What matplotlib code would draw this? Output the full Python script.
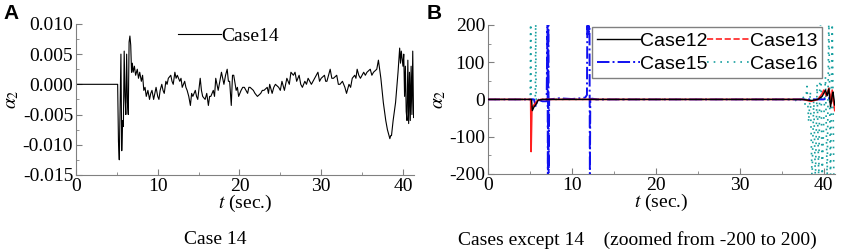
import numpy as np
import matplotlib
matplotlib.use("Agg")
import matplotlib.pyplot as plt
from matplotlib.ticker import MultipleLocator, FormatStrFormatter

plt.rcParams['font.family'] = 'Liberation Serif'
plt.rcParams['axes.unicode_minus'] = False
plt.rcParams['mathtext.fontset'] = 'stix'

TEAL = "#18A0A0"

# ---- panel A: Case 14, (time, alpha2) ----
case14 = [
    (0, 0), (5.1, 0), (5.2, -0.0095), (5.3, -0.0125), (5.4, -0.004), (5.5, 0.005), (5.6, -0.011),
    (5.7, -0.006), (5.8, -0.007), (5.9, 0.0055), (6.0, -0.002), (6.1, -0.005), (6.2, 0.005),
    (6.3, -0.003), (6.4, -0.005), (6.5, 0.007), (6.6, 0.008), (6.7, 0.0065), (6.8, 0.002),
    (6.9, 0.0035), (7.0, 0.002), (7.15, 0.003), (7.3, 0.0015), (7.5, 0.0025), (7.65, 0.001),
    (7.8, 0.002), (8.0, 0.0005), (8.15, 0.0015), (8.3, -0.001), (8.45, -0.0005), (8.6, -0.002),
    (8.8, -0.001), (9.0, -0.0025), (9.15, -0.0015), (9.3, -0.001), (9.5, -0.0025), (9.65, -0.0015),
    (9.8, -0.0005), (10.0, -0.002), (10.15, -0.0025), (10.3, -0.001), (10.5, 0.0), (10.65, -0.001),
    (10.8, -0.0015), (11.0, 0.0005), (11.15, 0.0), (11.3, 0.001), (11.6, 0.0015), (11.75, 0.0005),
    (11.9, 0.0), (12.1, 0.002), (12.25, 0.001), (12.4, 0.0015), (12.7, 0.0005), (12.85, 0.001),
    (13.0, -0.0005), (13.3, 0.0005), (13.45, -0.0005), (13.6, -0.001), (13.8, -0.002),
    (14.0, -0.0035), (14.15, -0.0015), (14.3, -0.002), (14.6, -0.001), (14.75, -0.002),
    (14.9, -0.0025), (15.2, 0.001), (15.35, -0.001), (15.5, -0.002), (15.8, -0.0025),
    (16.0, -0.0015), (16.2, -0.0035), (16.35, -0.002), (16.5, -0.002), (16.8, -0.001),
    (16.95, -0.002), (17.1, 0.001), (17.4, -0.001), (17.6, 0.0005), (17.8, 0.002), (18.1, 0.0),
    (18.3, 0.0015), (18.5, 0.0025), (18.65, 0.0005), (18.8, 0.0005), (19.0, -0.0035),
    (19.15, 0.0015), (19.3, 0.0015), (19.6, -0.001), (19.75, -0.0005), (19.9, -0.002),
    (20.2, -0.001), (20.4, -0.0005), (20.6, -0.0005), (21.0, -0.0015), (21.15, -0.0005),
    (21.3, -0.0005), (21.7, -0.001), (21.9, -0.0015), (22.2, -0.002), (22.6, -0.0015),
    (22.8, -0.001), (23.0, -0.001), (23.4, -0.0005), (23.55, -0.0015), (23.7, 0.0),
    (24.0, -0.0015), (24.2, -0.0005), (24.4, 0.0), (24.8, -0.0005), (25.0, -0.001),
    (25.2, 0.0005), (25.5, -0.001), (25.65, 0.0), (25.8, 0.001), (26.1, 0.0), (26.3, 0.002),
    (26.6, 0.0015), (26.8, 0.002), (27.0, 0.0005), (27.3, 0.0015), (27.5, 0.0), (27.7, -0.0005),
    (28.0, 0.0005), (28.2, 0.0), (28.4, 0.001), (28.8, 0.0), (29.0, 0.0005), (29.2, 0.001),
    (29.6, 0.002), (29.8, 0.0005), (30.0, 0.001), (30.4, 0.0015), (30.55, 0.0005), (30.7, 0.0005),
    (31.1, 0.0025), (31.3, 0.001), (31.5, 0.001), (31.9, 0.0015), (32.1, 0.0), (32.3, 0.0),
    (32.6, 0.0005), (32.9, -0.0005), (33.1, -0.0015), (33.4, 0.0), (33.6, -0.0005), (33.8, 0.001),
    (34.1, 0.0015), (34.25, 0.001), (34.4, 0.0025), (34.6, 0.0015), (34.8, 0.001), (35.2, 0.002),
    (35.4, 0.0015), (35.6, 0.002), (36.0, 0.0025), (36.2, 0.0015), (36.4, 0.002), (36.8, 0.0025),
    (37.0, 0.004), (37.3, 0.001), (37.6, -0.003), (37.9, -0.006), (38.1, -0.0075), (38.2, -0.008),
    (38.4, -0.009), (38.5, -0.0085), (38.6, -0.0085), (38.8, -0.006), (39.1, -0.003), (39.4, 0.002),
    (39.6, 0.006), (39.7, 0.0035), (39.8, 0.0055), (40.0, 0.003), (40.1, 0.005), (40.2, -0.002),
    (40.3, 0.003), (40.4, -0.0045), (40.5, -0.006), (40.6, 0.004), (40.7, -0.0065), (40.8, 0.002),
    (40.9, -0.006), (41.0, 0.003), (41.1, -0.005), (41.2, 0.0055), (41.3, -0.0055),
]
t14 = [p[0] for p in case14]
a14 = [p[1] for p in case14]

# ---- panel B: other cases (values beyond +-200 are clipped by the axis) ----
t12 = [0, 5.2, 5.3, 5.5, 5.7, 6.0, 6.5, 37.5, 38.5, 39.3, 39.8, 40.2, 40.4, 40.6, 40.8, 41.0, 41.1, 41.3]
a12 = [0, 0, -30, -20, -15, -2, 0, 0, -3, 0, 8, 25, 10, 28, -20, 10, 20, -15]

t13 = [0, 5.1, 5.15, 5.25, 5.4, 5.6, 5.9, 6.3, 37.5, 38.5, 39.3, 39.8, 40.0, 40.3, 40.6, 40.9, 41.0, 41.3]
a13 = [0, 0, -140, -20, -18, -12, -3, 0, 0, -5, 0, 15, 25, 10, 30, -10, 25, -30]

t15 = [0, 5.5, 5.7, 5.9, 6.5, 7.0, 7.1, 7.15, 7.2, 7.25, 7.3, 8.5, 10.0, 11.0, 11.6, 11.8, 11.85,
       11.9, 11.95, 12.0, 12.1, 12.15, 12.2, 12.4, 13.0, 40.0, 40.5, 41.0]
a15 = [0, 0, -20, 0, -5, -5, 220, -220, 220, -220, 0, 3, 1, 3, 5, 12, 220, 170, 220, 180, 220, -220,
       0, 2, 0, 0, 5, 0]

t16 = [0, 5.05, 5.1, 5.15, 5.65, 5.7, 5.75, 36.5, 37.0, 37.5, 37.8, 38.0, 38.2, 38.4, 38.6, 38.8,
       39.0, 39.2, 39.4, 39.6, 39.8, 40.0, 40.2, 40.4, 40.6, 40.8, 41.0, 41.2]
a16 = [0, 0, 220, 0, 0, 220, 0, 0, -8, 10, -15, 35, -60, 20, -220, 5, -220, 40, -220, 220, -220,
       -50, 60, -220, 220, -220, 220, -220]

fig = plt.figure(figsize=(8.44, 2.52), dpi=100)
axA = fig.add_axes([0.090, 0.306, 0.400, 0.599])
axB = fig.add_axes([0.578, 0.310, 0.411, 0.591])

fs = 14
for ax in (axA, axB):
    ax.spines['top'].set_visible(False)
    ax.spines['right'].set_visible(False)
    ax.spines['left'].set_color('#808080')
    ax.spines['bottom'].set_color('#808080')
    ax.tick_params(which='both', direction='in', labelsize=fs, color='#808080', pad=2)
    ax.tick_params(which='major', length=4)
    ax.tick_params(which='minor', length=2)
    ax.xaxis.set_major_locator(MultipleLocator(10))
    ax.xaxis.set_minor_locator(MultipleLocator(5))
    ax.set_xlabel(r'$t$ (sec.)', fontsize=fs, labelpad=-1)
    ax.set_ylabel(r'$\alpha_2$', fontsize=fs, labelpad=1)

axA.plot(t14, a14, color='black', lw=0.8, label='Case14')
axA.set_xlim(0, 41.3)
axA.set_ylim(-0.015, 0.010)
axA.yaxis.set_major_locator(MultipleLocator(0.005))
axA.yaxis.set_minor_locator(MultipleLocator(0.0025))
axA.yaxis.set_major_formatter(FormatStrFormatter('%.3f'))
axA.legend(loc='upper left', bbox_to_anchor=(0.28, 1.03), frameon=False, fontsize=fs,
           handlelength=2.2, handletextpad=0.0, borderaxespad=0)

axB.plot(t16, a16, color=TEAL, lw=1.2, ls=(0, (1, 3)), label='Case16', zorder=2)
axB.plot(t15, a15, color='#1010F0', lw=1.4, ls='-.', label='Case15', zorder=3)
axB.plot(t13, a13, color='#FF2020', lw=1.2, ls='-', zorder=4)
axB.plot(t12, a12, color='black', lw=1.0, label='Case12', zorder=5)
axB.plot([], [], color='#FF2020', lw=1.2, ls='--', label='Case13')
axB.set_xlim(0, 41.3)
axB.set_ylim(-200, 200)
axB.yaxis.set_major_locator(MultipleLocator(100))
axB.yaxis.set_minor_locator(MultipleLocator(50))
h, l = axB.get_legend_handles_labels()
order = [l.index(n) for n in ['Case12', 'Case15', 'Case13', 'Case16']]
leg = axB.legend([h[i] for i in order], [l[i] for i in order], ncol=2, loc='upper left',
                 bbox_to_anchor=(0.30, 0.985), prop={'family': 'Liberation Sans', 'size': 14},
                 handlelength=2.2, handletextpad=0.0, columnspacing=0.0, fancybox=False,
                 edgecolor='#808080', framealpha=1, borderpad=0.25, labelspacing=0.3, borderaxespad=0)
leg.get_frame().set_linewidth(1.0)
leg.set_zorder(6)

fig.text(0.004, 0.985, 'A', fontsize=15, fontweight='bold', family='Liberation Sans', va='top')
fig.text(0.506, 0.985, 'B', fontsize=15, fontweight='bold', family='Liberation Sans', va='top')
fig.text(0.255, 0.03, 'Case 14', fontsize=fs, ha='center')
fig.text(0.755, 0.03, 'Cases except 14    (zoomed from -200 to 200)', fontsize=fs, ha='center')

fig.savefig('out.png', dpi=100)
